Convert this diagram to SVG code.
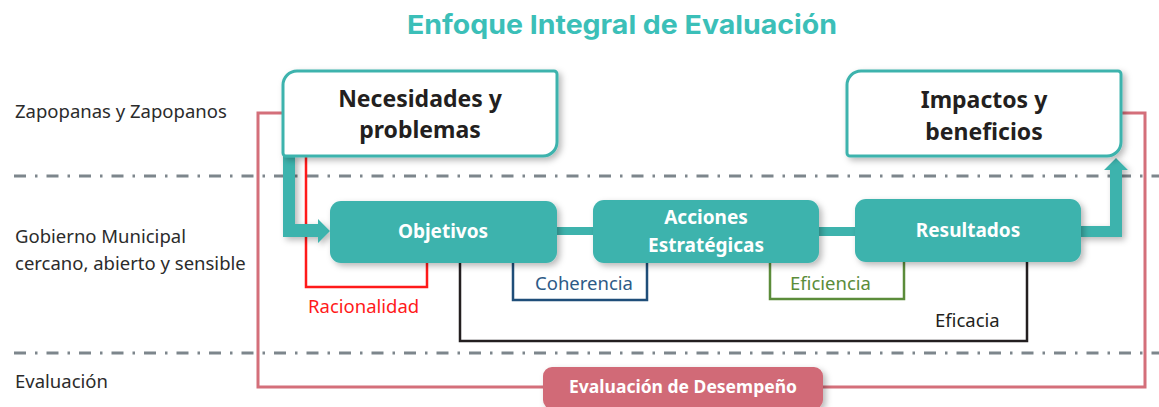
<svg xmlns="http://www.w3.org/2000/svg" width="1159" height="407" viewBox="0 0 1159 407">
<defs>
<style>
.lbl{font-family:"Noto Sans","Open Sans",sans-serif;font-size:18.5px;fill:#2b2b2b}
.hdr{font-family:"Noto Sans","Open Sans",sans-serif;font-weight:700;font-size:23px;fill:#231f20;text-anchor:middle}
.btxt{font-family:"Noto Sans","Open Sans",sans-serif;font-weight:700;font-size:19px;fill:#ffffff;text-anchor:middle}
.sub{font-family:"Noto Sans","Open Sans",sans-serif;font-size:18.5px}
.dash{stroke:#7d868c;stroke-width:3;stroke-dasharray:12 9 2.5 9;fill:none}
.teal{fill:#3eb3ad}
.outline{fill:#ffffff;stroke:#3eb3ad;stroke-width:3}
</style>
<filter id="sh" x="-10%" y="-20%" width="130%" height="150%">
<feDropShadow dx="3" dy="3" stdDeviation="3" flood-color="#000" flood-opacity="0.28"/>
</filter>
</defs>
<rect width="1159" height="407" fill="#ffffff"/>
<text x="622" y="34" text-anchor="middle" font-family="Inter,'Noto Sans',sans-serif" font-weight="700" font-size="26" fill="#3bbfb8" textLength="430" lengthAdjust="spacingAndGlyphs">Enfoque Integral de Evaluación</text>
<g id="lanes">
<line class="dash" x1="14" y1="176" x2="1159" y2="176"/>
<line class="dash" x1="14" y1="353" x2="1159" y2="353"/>
<text class="lbl" x="15" y="118">Zapopanas y Zapopanos</text>
<text class="lbl" x="15" y="243">Gobierno Municipal</text>
<text class="lbl" x="15" y="270">cercano, abierto y sensible</text>
<text class="lbl" x="15" y="388">Evaluación</text>
</g>
<g id="connectors" fill="none">
<path d="M283,113 H258 V387 H1145 V113 H1121" stroke="#d46f7a" stroke-width="3"/>
<path d="M306,156 V287 H427 V263" stroke="#ff1a1a" stroke-width="2.5"/>
<path d="M460,263 V341 H1027 V262" stroke="#231f20" stroke-width="2.5"/>
<path d="M513,263 V300 H647 V263" stroke="#1f4e79" stroke-width="2.5"/>
<path d="M770,263 V299 H904 V262" stroke="#5b8c3a" stroke-width="2.5"/>
<path class="teal" filter="url(#sh)" d="M283,154 H295 V224 H318 V219 L330,231 L318,243 V237 H283 Z"/>
<rect class="teal" x="555" y="227" width="40" height="8"/>
<rect class="teal" x="817" y="227" width="40" height="9"/>
<path class="teal" filter="url(#sh)" d="M1079,226 H1110 V170 H1104 L1116,158 L1128,170 H1122 V237 H1079 Z"/>
<text class="sub" x="308" y="313" fill="#ff1a1a">Racionalidad</text>
<text class="sub" x="535" y="290" fill="#2d5a86">Coherencia</text>
<text class="sub" x="790" y="290" fill="#5b8c3a">Eficiencia</text>
<text class="sub" x="935" y="327" fill="#231f20">Eficacia</text>
</g>
<g id="necesidades">
<path class="outline" filter="url(#sh)" d="M283,85 A14,14 0 0 1 297,71 H554 A3,3 0 0 1 557,74 V142 A14,14 0 0 1 543,156 H286 A3,3 0 0 1 283,153 Z"/>
<text class="hdr" x="420" y="107">Necesidades y</text>
<text class="hdr" x="420" y="138">problemas</text>
</g>
<g id="impactos">
<path class="outline" filter="url(#sh)" d="M847,85 A14,14 0 0 1 861,71 H1118 A3,3 0 0 1 1121,74 V142 A14,14 0 0 1 1107,156 H850 A3,3 0 0 1 847,153 Z"/>
<text class="hdr" x="984" y="108">Impactos y</text>
<text class="hdr" x="984" y="140">beneficios</text>
</g>
<g id="objetivos">
<rect class="teal" filter="url(#sh)" x="330" y="201" width="227" height="62" rx="11"/>
<text class="btxt" x="443" y="238">Objetivos</text>
</g>
<g id="acciones">
<rect class="teal" filter="url(#sh)" x="593" y="200" width="226" height="63" rx="11"/>
<text class="btxt" x="706" y="224">Acciones</text>
<text class="btxt" x="706" y="252">Estratégicas</text>
</g>
<g id="resultados">
<rect class="teal" filter="url(#sh)" x="855" y="199" width="226" height="63" rx="11"/>
<text class="btxt" x="968" y="237">Resultados</text>
</g>
<g id="evaluacion">
<rect filter="url(#sh)" x="543" y="367" width="280" height="42" rx="9" fill="#d16b77"/>
<text class="btxt" x="683" y="393" style="font-size:17.5px">Evaluación de Desempeño</text>
</g>
</svg>
